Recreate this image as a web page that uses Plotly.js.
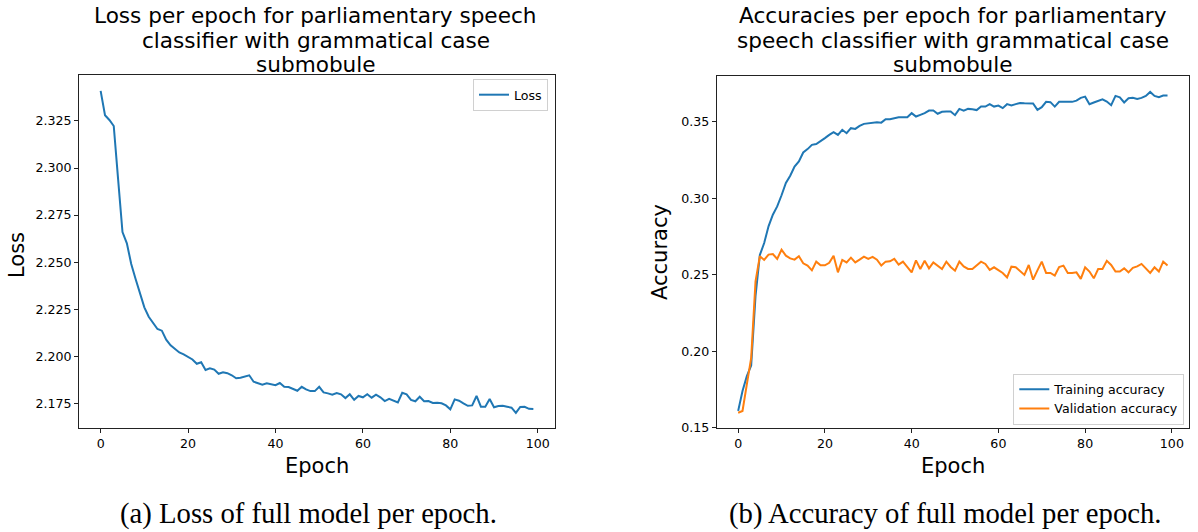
<!DOCTYPE html>
<html>
<head>
<meta charset="utf-8">
<script src="https://cdn.plot.ly/plotly-3.0.1.min.js"></script>
<style>
  html, body { margin: 0; padding: 0; background: #fff; }
  #chart { width: 1198px; height: 532px; }
</style>
</head>
<body>
<div id="chart"></div>
<script>
// Training history of the parliamentary speech classifier (grammatical case submodule)
const epochs = Array.from({length: 100}, (_, i) => i);

const lossValues = [
  2.341, 2.328, 2.3255, 2.3223, 2.294, 2.266, 2.260, 2.249, 2.241, 2.233,
  2.226, 2.221, 2.2175, 2.2145, 2.2136, 2.2088, 2.2058, 2.2038, 2.2020, 2.2010,
  2.1997, 2.1983, 2.1960, 2.1968, 2.1927, 2.1936, 2.1929, 2.1907, 2.1915, 2.1910,
  2.1899, 2.1883, 2.1886, 2.1891, 2.1899, 2.1865, 2.1856, 2.1849, 2.1856, 2.1853,
  2.1846, 2.1858, 2.1838, 2.1837, 2.1828, 2.1817, 2.1838, 2.1824, 2.1815, 2.1815,
  2.1838, 2.1808, 2.1803, 2.1796, 2.1805, 2.1798, 2.1778, 2.1798, 2.1769, 2.1789,
  2.1782, 2.1798, 2.1780, 2.1796, 2.1782, 2.1762, 2.1774, 2.1766, 2.1755, 2.1806,
  2.1798, 2.1768, 2.1761, 2.1785, 2.1761, 2.1762, 2.1752, 2.1753, 2.1750, 2.1739,
  2.1718, 2.1771, 2.1764, 2.1750, 2.1737, 2.1739, 2.1789, 2.1732, 2.1732, 2.1773,
  2.1729, 2.1736, 2.1737, 2.1732, 2.1727, 2.1699, 2.1731, 2.1732, 2.1721, 2.1720
];

const trainAccuracy = [
  0.161, 0.174, 0.1837, 0.1907, 0.236, 0.263, 0.2708, 0.2817, 0.2893, 0.2947,
  0.3020, 0.3100, 0.3148, 0.3208, 0.3241, 0.3300, 0.3322, 0.3350, 0.3355, 0.3372,
  0.3394, 0.3415, 0.3433, 0.3415, 0.3448, 0.3426, 0.3459, 0.3454, 0.3474, 0.3487,
  0.3491, 0.3498, 0.3498, 0.3495, 0.3518, 0.3518, 0.3524, 0.3530, 0.3531, 0.3531,
  0.3557, 0.3535, 0.3546, 0.3557, 0.3574, 0.3574, 0.3553, 0.3566, 0.3568, 0.3568,
  0.3544, 0.3585, 0.3574, 0.3585, 0.3583, 0.3577, 0.3600, 0.3600, 0.3616, 0.3600,
  0.3607, 0.3590, 0.3616, 0.3607, 0.3616, 0.3624, 0.3622, 0.3620, 0.3620, 0.3579,
  0.3596, 0.3631, 0.3629, 0.3600, 0.3631, 0.3631, 0.3631, 0.3631, 0.3639, 0.3657,
  0.3665, 0.3616, 0.3627, 0.3639, 0.3648, 0.3633, 0.3609, 0.3670, 0.3661, 0.3627,
  0.3655, 0.3657, 0.3650, 0.3657, 0.3670, 0.3696, 0.3670, 0.3661, 0.3672, 0.3672
];

const validAccuracy = [
  0.1598, 0.1609, 0.1783, 0.1957, 0.2457, 0.2621, 0.2597, 0.2632, 0.2636, 0.2604,
  0.2664, 0.2625, 0.2607, 0.2599, 0.2621, 0.2575, 0.2560, 0.2529, 0.2586, 0.2562,
  0.2562, 0.2578, 0.2625, 0.2516, 0.2597, 0.2581, 0.2612, 0.2581, 0.2599, 0.2619,
  0.2604, 0.2617, 0.2599, 0.2560, 0.2586, 0.2588, 0.2604, 0.2566, 0.2586, 0.2549,
  0.2516, 0.2594, 0.2538, 0.2592, 0.2542, 0.2581, 0.2560, 0.2538, 0.2586, 0.2551,
  0.2527, 0.2586, 0.2555, 0.2538, 0.2538, 0.2560, 0.2586, 0.2571, 0.2532, 0.2549,
  0.2532, 0.2512, 0.2483, 0.2553, 0.2549, 0.2527, 0.2499, 0.2564, 0.2468, 0.2529,
  0.2586, 0.2512, 0.2512, 0.2495, 0.2551, 0.2560, 0.2512, 0.2512, 0.2516, 0.2473,
  0.2549, 0.2521, 0.2477, 0.2538, 0.2538, 0.2591, 0.2564, 0.2521, 0.2521, 0.2542,
  0.2516, 0.2545, 0.2555, 0.2571, 0.2542, 0.2512, 0.2549, 0.2521, 0.2586, 0.2560
];

const lossTicks = [2.175, 2.200, 2.225, 2.250, 2.275, 2.300, 2.325];
const accTicks = [0.15, 0.20, 0.25, 0.30, 0.35];
const epochTicks = [0, 20, 40, 60, 80, 100];

const leftTitleLines = ['Loss per epoch for parliamentary speech', 'classifier with grammatical case', 'submobule'];
const rightTitleLines = ['Accuracies per epoch for parliamentary', 'speech classifier with grammatical case', 'submobule'];
const captions = ['(a) Loss of full model per epoch.', '(b) Accuracy of full model per epoch.'];

const W = 1198, H = 532;
const px = x => x / W;
const py = y => 1 - y / H;

const BLUE = '#1f77b4', ORANGE = '#ff7f0e';
const SANS = 'DejaVu Sans, sans-serif';
const tickFont = {family: SANS, size: 12.6, color: '#000'};

const traces = [
  {x: epochs, y: lossValues, type: 'scatter', mode: 'lines', name: 'Loss',
   line: {color: BLUE, width: 2}, xaxis: 'x', yaxis: 'y', legend: 'legend'},
  {x: epochs, y: trainAccuracy, type: 'scatter', mode: 'lines', name: 'Training accuracy',
   line: {color: BLUE, width: 2}, xaxis: 'x2', yaxis: 'y2', legend: 'legend2'},
  {x: epochs, y: validAccuracy, type: 'scatter', mode: 'lines', name: 'Validation accuracy',
   line: {color: ORANGE, width: 2}, xaxis: 'x2', yaxis: 'y2', legend: 'legend2'}
];

function axisBase(extra) {
  return Object.assign({
    showgrid: false, zeroline: false,
    showline: true, mirror: true, linecolor: '#222', linewidth: 1,
    ticks: 'outside', ticklen: 4, tickwidth: 1, tickcolor: '#222',
    tickfont: tickFont, fixedrange: true
  }, extra);
}

const annotations = [];
function titleBlock(lines, cx) {
  lines.forEach((t, i) => annotations.push({
    text: t, xref: 'paper', yref: 'paper', x: px(cx), y: py(15 + i * 25),
    xanchor: 'center', yanchor: 'middle', showarrow: false,
    font: {family: SANS, size: 21.6, color: '#000'}
  }));
}
titleBlock(leftTitleLines, 315.5);
titleBlock(rightTitleLines, 952.5);

// Axis titles
annotations.push(
  {text: 'Epoch', xref: 'paper', yref: 'paper', x: px(317), y: py(466), xanchor: 'center', yanchor: 'middle',
   showarrow: false, font: {family: SANS, size: 21, color: '#000'}},
  {text: 'Epoch', xref: 'paper', yref: 'paper', x: px(952.5), y: py(466), xanchor: 'center', yanchor: 'middle',
   showarrow: false, font: {family: SANS, size: 21, color: '#000'}},
  {text: 'Loss', xref: 'paper', yref: 'paper', x: px(17), y: py(255), xanchor: 'center', yanchor: 'middle',
   textangle: -90, showarrow: false, font: {family: SANS, size: 21, color: '#000'}},
  {text: 'Accuracy', xref: 'paper', yref: 'paper', x: px(660), y: py(252), xanchor: 'center', yanchor: 'middle',
   textangle: -90, showarrow: false, font: {family: SANS, size: 21, color: '#000'}}
);

// Sub-figure captions
annotations.push(
  {text: captions[0], xref: 'paper', yref: 'paper', x: px(308.5), y: py(513), xanchor: 'center', yanchor: 'middle',
   showarrow: false, font: {family: 'Liberation Serif, Times New Roman, serif', size: 28.7, color: '#000'}},
  {text: captions[1], xref: 'paper', yref: 'paper', x: px(945.5), y: py(513), xanchor: 'center', yanchor: 'middle',
   showarrow: false, font: {family: 'Liberation Serif, Times New Roman, serif', size: 28.7, color: '#000'}}
);

const legendStyle = {
  bgcolor: 'rgba(255,255,255,0.8)', bordercolor: '#d0d0d0', borderwidth: 1,
  font: {family: SANS, size: 12.6, color: '#000'}, tracegroupgap: 0
};

const layout = {
  width: W, height: H,
  margin: {l: 0, r: 0, t: 0, b: 0},
  paper_bgcolor: '#fff', plot_bgcolor: '#fff',
  showlegend: true,
  xaxis: axisBase({domain: [px(79), px(555)], range: [-4.95, 103.95], tickvals: epochTicks, anchor: 'y'}),
  yaxis: axisBase({domain: [py(428), py(75)], range: [2.1619, 2.3494], tickvals: lossTicks, tickformat: '.3f', anchor: 'x'}),
  xaxis2: axisBase({domain: [px(716.7), px(1189)], range: [-4.95, 103.95], tickvals: epochTicks, anchor: 'y2'}),
  yaxis2: axisBase({domain: [py(428.3), py(75.7)], range: [0.1496, 0.3802], tickvals: accTicks, tickformat: '.2f', anchor: 'x2'}),
  legend: Object.assign({x: px(548), y: py(79), xanchor: 'right', yanchor: 'top'}, legendStyle),
  legend2: Object.assign({x: px(1184.3), y: py(424.5), xanchor: 'right', yanchor: 'bottom'}, legendStyle),
  annotations: annotations
};

Plotly.newPlot('chart', traces, layout, {displayModeBar: false, staticPlot: true});
</script>
</body>
</html>
